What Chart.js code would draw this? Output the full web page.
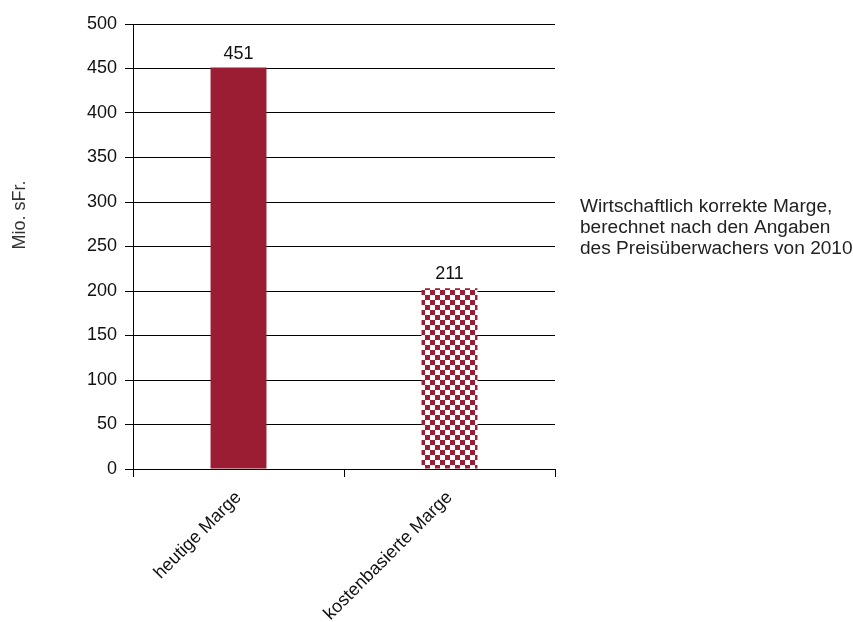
<!DOCTYPE html>
<html>
<head>
<meta charset="utf-8">
<script src="https://cdn.jsdelivr.net/npm/chart.js@4"></script>
<style>
  html, body { margin: 0; padding: 0; background: #fff; }
  #wrap { width: 853px; height: 622px; }
</style>
</head>
<body>
<div id="wrap"><canvas id="c" width="853" height="622"></canvas></div>
<script>
const categories = ["heutige Marge", "kostenbasierte Marge"];
const values = [451, 203];
const valueLabels = ["451", "211"];
const yTicks = [0, 50, 100, 150, 200, 250, 300, 350, 400, 450, 500];
const yTitle = "Mio. sFr.";
const noteLines = ["Wirtschaftlich korrekte Marge,", "berechnet nach den Angaben", "des Preisüberwachers von 2010"];

const RED = "rgb(155,29,51)";
const FONT = "'Liberation Sans', Arial, sans-serif";

function checker() {
  const c = document.createElement("canvas");
  c.width = 10; c.height = 10;
  const x = c.getContext("2d");
  x.fillStyle = "#fff"; x.fillRect(0, 0, 10, 10);
  x.fillStyle = RED;
  x.fillRect(0, 0, 5, 5);
  x.fillRect(5, 5, 5, 5);
  return x.createPattern(c, "repeat");
}

const ctx = document.getElementById("c").getContext("2d");
const pattern = checker();

const labelPlugin = {
  id: "valLabels",
  afterDatasetsDraw(chart) {
    const c = chart.ctx;
    const meta = chart.getDatasetMeta(0);
    c.save();
    c.font = "18px " + FONT;
    c.fillStyle = "#111";
    c.textAlign = "center";
    c.textBaseline = "bottom";
    meta.data.forEach((bar, i) => {
      c.fillText(valueLabels[i], bar.x, bar.y - 5);
    });
    c.restore();
  }
};

const notePlugin = {
  id: "note",
  afterDraw(chart) {
    const c = chart.ctx;
    c.save();
    c.font = "18px " + FONT;
    c.fillStyle = "#222";
    c.textAlign = "left";
    c.textBaseline = "alphabetic";
    c.translate(580, 0);
    c.scale(1.06, 1);
    noteLines.forEach((t, i) => c.fillText(t, 0, 212 + i * 21));
    c.restore();
    // y-axis title
    c.save();
    c.font = "18px " + FONT;
    c.fillStyle = "#333";
    c.textAlign = "center";
    c.textBaseline = "middle";
    c.translate(20, 215);
    c.rotate(-Math.PI / 2);
    c.fillText(yTitle, 0, 0);
    c.restore();
  }
};

new Chart(ctx, {
  type: "bar",
  data: {
    labels: categories,
    datasets: [{
      data: values,
      backgroundColor: [RED, pattern],
      borderWidth: 0,
      categoryPercentage: 1,
      barPercentage: 0.265
    }]
  },
  options: {
    responsive: false,
    animation: false,
    devicePixelRatio: 1,
    layout: { padding: { top: 24, right: 298, bottom: 0, left: 0 } },
    plugins: { legend: { display: false }, tooltip: { enabled: false } },
    scales: {
      x: {
        grid: { display: true, drawOnChartArea: false, drawTicks: true, tickLength: 8, color: "#000", offset: true },
        border: { display: true, color: "#000", width: 1 },
        ticks: {
          color: "#111",
          font: { family: FONT, size: 18 },
          maxRotation: 45, minRotation: 45,
          padding: 10
        },
        afterFit(scale) { scale.height = 153; }
      },
      y: {
        min: 0, max: 500,
        afterBuildTicks(scale) { scale.ticks = yTicks.map(v => ({ value: v })); },
        grid: { display: true, drawOnChartArea: true, drawTicks: true, tickLength: 8, color: "#000", lineWidth: 1 },
        border: { display: true, color: "#000", width: 1 },
        ticks: {
          color: "#111",
          font: { family: FONT, size: 18 },
          padding: 8
        },
        title: { display: false },
        afterFit(scale) { scale.width = 133; }
      }
    }
  },
  plugins: [labelPlugin, notePlugin]
});
</script>
</body>
</html>
